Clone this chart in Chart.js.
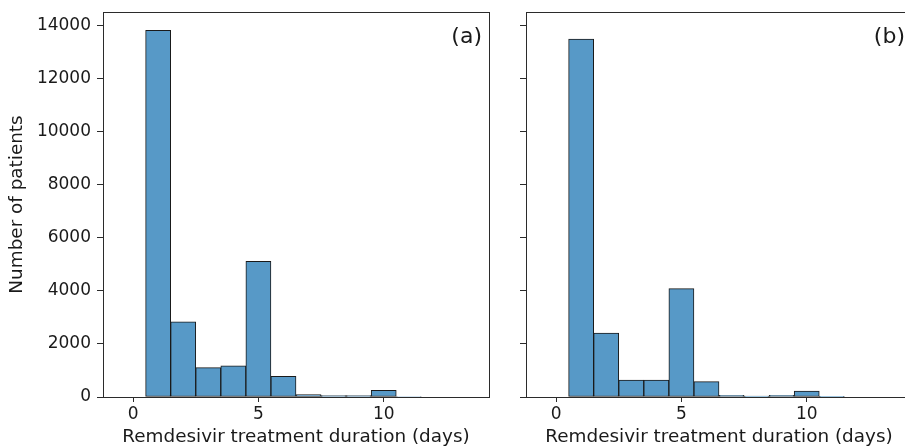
<!DOCTYPE html>
<html>
<head>
<meta charset="utf-8">
<script src="https://cdn.jsdelivr.net/npm/chart.js@4.4.1/dist/chart.umd.min.js"></script>
<style>
html, body { margin: 0; padding: 0; background: #fff; overflow: hidden; }
#wrap { position: relative; width: 905px; height: 446px; overflow: hidden; }
.panel { position: absolute; top: 0; height: 446px; }
#pa { left: 0; width: 497px; }
#pb { left: 497px; width: 420px; }
</style>
</head>
<body>
<div id="wrap">
  <div class="panel" id="pa"><canvas id="chartA" width="497" height="446"></canvas></div>
  <div class="panel" id="pb"><canvas id="chartB" width="420" height="446"></canvas></div>
</div>
<script>
// histogram bins (days), counts per panel
const days = [0, 1, 2, 3, 4, 5, 6, 7, 8, 9, 10, 11, 12, 13];
const patientsA = [0, 13830, 2830, 1105, 1180, 5120, 780, 90, 50, 50, 250, 20, 0, 0];
const patientsB = [0, 13500, 2410, 640, 640, 4085, 580, 60, 30, 60, 225, 25, 0, 0];
const xTicks = [0, 5, 10];
const yTicks = [0, 2000, 4000, 6000, 8000, 10000, 12000, 14000];
const xTitle = 'Remdesivir treatment duration (days)';
const yTitle = 'Number of patients';

const FONT = '"DejaVu Sans", sans-serif';
const barFill = '#5799c7';
const barEdge = '#1a1a1a';
const axisColor = '#2b2b2b';
const textColor = '#1a1a1a';

// spines on all four sides + panel letter in the top right corner
const framePlugin = {
    id: 'frame',
    afterDraw(chart, args, opts) {
        const {ctx, chartArea} = chart;
        ctx.save();
        ctx.strokeStyle = axisColor;
        ctx.lineWidth = 1;
        ctx.strokeRect(Math.round(chartArea.left) + 0.5, Math.round(chartArea.top) + 0.5,
            Math.round(chartArea.right - chartArea.left), Math.round(chartArea.bottom - chartArea.top));
        ctx.fillStyle = textColor;
        ctx.font = '22px ' + FONT;
        ctx.textAlign = 'right';
        ctx.textBaseline = 'alphabetic';
        ctx.fillText(opts.label, chartArea.right - 7, chartArea.top + 31);
        ctx.restore();
    }
};

function makeChart(id, counts, label, yAxisWidth, rightPad, showYLabels) {
    return new Chart(document.getElementById(id), {
        type: 'bar',
        data: {
            datasets: [{
                data: days.map((d, i) => ({x: d, y: counts[i]})),
                backgroundColor: barFill,
                borderColor: barEdge,
                borderWidth: 1,
                borderSkipped: false,
                barPercentage: 1,
                categoryPercentage: 1,
            }]
        },
        options: {
            responsive: false,
            animation: false,
            layout: {padding: {top: 12, right: rightPad, left: 0, bottom: 0}},
            plugins: {
                legend: {display: false},
                tooltip: {enabled: false},
                frame: {label: label},
            },
            scales: {
                x: {
                    type: 'linear',
                    min: -1.2,
                    max: 14.2,
                    offset: false,
                    afterBuildTicks: scale => { scale.ticks = xTicks.map(v => ({value: v})); },
                    afterFit: scale => {
                        scale.height = 49;
                        scale.paddingLeft = 0;
                        scale.paddingRight = 0;
                    },
                    grid: {display: true, offset: false, drawOnChartArea: false, drawTicks: true, tickLength: 5, tickColor: axisColor},
                    border: {display: true, color: axisColor},
                    ticks: {color: textColor, font: {family: FONT, size: 17}, padding: 2, maxRotation: 0},
                    title: {display: true, text: xTitle, color: textColor, font: {family: FONT, size: 18.4, lineHeight: 1}, padding: {top: 0, bottom: 0}},
                },
                y: {
                    min: 0,
                    max: 14518,
                    afterBuildTicks: scale => { scale.ticks = yTicks.map(v => ({value: v})); },
                    afterFit: scale => {
                        scale.width = yAxisWidth;
                        scale.paddingTop = 0;
                        scale.paddingBottom = 0;
                    },
                    grid: {display: true, drawOnChartArea: false, drawTicks: true, tickLength: 6, tickColor: axisColor},
                    border: {display: true, color: axisColor},
                    ticks: {
                        color: textColor,
                        font: {family: FONT, size: 17},
                        padding: 6,
                        callback: v => showYLabels ? String(v) : '',
                    },
                    title: {display: showYLabels, text: yTitle, color: textColor, font: {family: FONT, size: 18.4, lineHeight: 1}, padding: {top: 8, bottom: 0}},
                },
            },
        },
        plugins: [framePlugin],
    });
}

makeChart('chartA', patientsA, '(a)', 103, 8, true);
makeChart('chartB', patientsB, '(b)', 29, 5, false);
</script>
</body>
</html>
